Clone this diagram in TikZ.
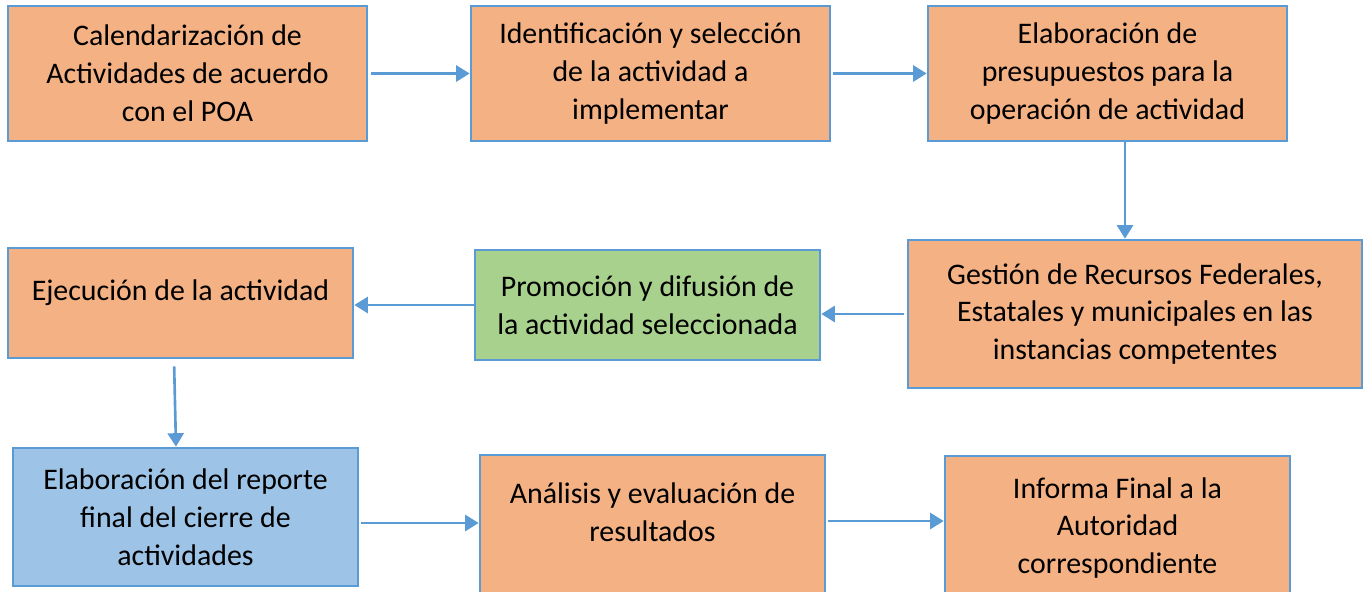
\documentclass[tikz,border=0pt]{standalone}
\usepackage{fontspec}
\setmainfont{Carlito}
\usetikzlibrary{arrows.meta}
\definecolor{naranja}{HTML}{F4B183}
\definecolor{verde}{HTML}{A9D18E}
\definecolor{celeste}{HTML}{9DC3E6}
\definecolor{azul}{HTML}{5B9BD5}
\tikzset{
	caja/.style={draw=azul, line width=1.5pt, fill=naranja, inner sep=0pt, align=center,
		font=\fontsize{17}{21.6}\selectfont},
	flecha/.style={draw=azul, line width=1.5pt, -{Triangle[length=0.27cm,width=0.32cm]}}
}
\begin{document}
\begin{tikzpicture}
		%%%%% START %%%%%
		
		\useasboundingbox (0, 0) rectangle (27.28, -11.84);
		\clip (0, 0) rectangle (27.28, -11.84);
		
		\node[caja, minimum width=7.18cm, minimum height=2.7cm] (calendario) at (3.75, -1.47)
			{Calendarización de\\Actividades de acuerdo\\con el POA};
		\node[caja, minimum width=7.18cm, minimum height=2.7cm] (identifica) at (13.01, -1.47)
			{Identificación y selección\\de la actividad a\\implementar};
		\node[caja, minimum width=7.18cm, minimum height=2.7cm] (presupuesto) at (22.15, -1.47)
			{Elaboración de\\presupuestos para la\\operación de actividad};
		
		\node[caja, minimum width=9.08cm, minimum height=2.96cm] (gestion) at (22.70, -6.28)
			{Gestión de Recursos Federales,\\Estatales y municipales en las\\instancias competentes};
		\node[caja, fill=verde, minimum width=6.9cm, minimum height=2.2cm] (promocion) at (12.95, -6.10)
			{Promoción y difusión de\\la actividad seleccionada};
		\node[caja, minimum width=6.9cm, minimum height=2.2cm, text depth=0.5cm] (ejecucion) at (3.61, -6.06)
			{Ejecución de la actividad};
		
		\node[caja, fill=celeste, minimum width=6.9cm, minimum height=2.76cm] (reporte) at (3.71, -10.34)
			{Elaboración del reporte\\final del cierre de\\actividades};
		\node[caja, minimum width=6.9cm, minimum height=2.9cm, text depth=0.62cm] (analisis) at (13.05, -10.55)
			{Análisis y evaluación de\\resultados};
		\node[caja, minimum width=6.9cm, minimum height=2.88cm] (informe) at (22.35, -10.56)
			{Informa Final a la\\Autoridad\\correspondiente};
		
		\draw[flecha, shorten <=0.06cm] (calendario.east) -- (identifica.west);
		\draw[flecha, shorten <=0.04cm] (identifica.east) -- (presupuesto.west);
		\draw[flecha] ([xshift=0.35cm]presupuesto.south) -- ([xshift=0.35cm]presupuesto.south |- gestion.north);
		\draw[flecha, shorten <=0.06cm] (gestion.west) -- (gestion.west -| promocion.east);
		\draw[flecha] (promocion.west) -- (promocion.west -| ejecucion.east);
		\draw[flecha, shorten <=0.14cm] ([xshift=-0.13cm]ejecucion.south) -- ([xshift=-0.19cm]reporte.north);
		\draw[flecha, shorten <=0.04cm] ([yshift=-0.12cm]reporte.east) -- ([yshift=-0.12cm]reporte.east -| analisis.west);
		\draw[flecha, shorten <=0.04cm] ([yshift=0.13cm]analisis.east) -- ([yshift=0.13cm]analisis.east -| informe.west);
		
		%%%%% END %%%%%
	\end{tikzpicture}
\end{document}
